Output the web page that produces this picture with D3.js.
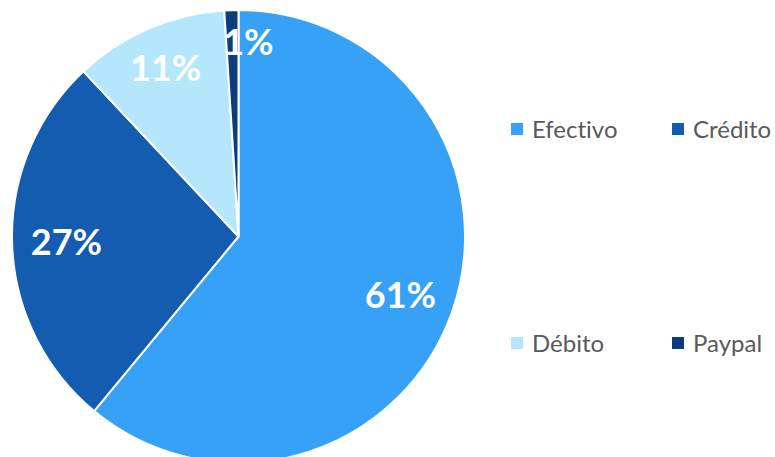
<!DOCTYPE html>
<html>
<head>
<meta charset="utf-8">
<script src="https://cdn.jsdelivr.net/npm/d3@7"></script>
<style>
  body { margin: 0; background: #fff; }
  svg { display: block; }
  text { font-variant-ligatures: none; font-feature-settings: "liga" 0, "dlig" 0; }
</style>
</head>
<body>
<div class="chart-container"></div>
<script>
// chart data
const categories = ['Efectivo', 'Crédito', 'Débito', 'Paypal'];
const shares = [61, 27, 11, 1];
const colors = ['#36a1f6', '#135cb0', '#b4e7fc', '#0b3d7d'];

const width = 775;
const height = 457;
const cx = 238.5;
const cy = 236.5;
const radius = 226.5;

const pieData = categories.map((c, i) => ({ category: c, value: shares[i], color: colors[i] }));

const svg = d3.select('.chart-container')
    .append('svg')
    .attr('width', width)
    .attr('height', height);

const pie = d3.pie()
    .sort(null)
    .value(d => d.value);

const arc = d3.arc()
    .innerRadius(0)
    .outerRadius(radius);

const arcs = pie(pieData);

const g = svg.append('g')
    .attr('transform', `translate(${cx}, ${cy})`);

// slices
g.selectAll('.slice')
    .data(arcs)
    .enter()
    .append('path')
    .attr('class', 'slice')
    .attr('d', arc)
    .style('fill', d => d.data.color)
    .style('stroke', '#fff')
    .style('stroke-width', 2)
    .style('stroke-linejoin', 'round');

// labels - smaller slices get pushed further out, like excel does
function labelPos(d) {
    const v = d.data.value;
    const r = v < 3 ? radius * 0.86 : v < 15 ? radius * 0.81 : radius * 0.76;
    const a = (d.startAngle + d.endAngle) / 2;
    const x = Math.sin(a) * r + (v < 3 ? 16 : 0);
    const y = -Math.cos(a) * r;
    return [x, y];
}

g.selectAll('.label')
    .data(arcs)
    .enter()
    .append('text')
    .attr('class', 'label')
    .attr('x', d => labelPos(d)[0])
    .attr('y', d => labelPos(d)[1])
    .attr('dy', '0.36em')
    .attr('text-anchor', 'middle')
    .style('font-family', 'Lato, "Open Sans", sans-serif')
    .style('font-weight', 'bold')
    .style('font-size', '36px')
    .style('fill', '#fff')
    .text(d => d3.format('.0f')(d.data.value) + '%');

// legend
const legendX = [511, 672];
const legendY = [129, 343];

const legend = svg.append('g')
    .attr('class', 'legend')
    .selectAll('.legend-item')
    .data(pieData)
    .enter()
    .append('g')
    .attr('class', 'legend-item')
    .attr('transform', (d, i) => `translate(${legendX[i % 2]}, ${legendY[Math.floor(i / 2)]})`);

legend.append('rect')
    .attr('x', 0)
    .attr('y', -6)
    .attr('width', 12)
    .attr('height', 12)
    .style('fill', d => d.color);

legend.append('text')
    .attr('x', 21)
    .attr('y', 0)
    .attr('dy', '0.36em')
    .style('font-family', 'Lato, "Open Sans", sans-serif')
    .style('font-size', '24px')
    .style('fill', '#595959')
    .text(d => d.category);
</script>
</body>
</html>
